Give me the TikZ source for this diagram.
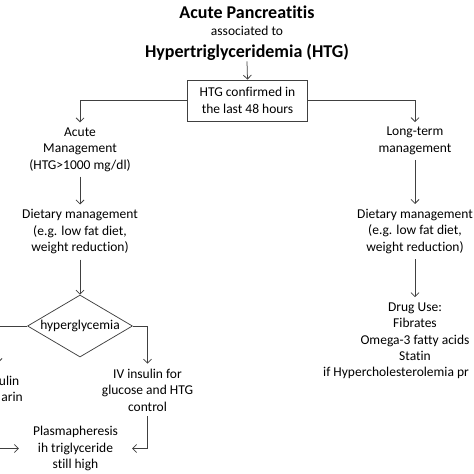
\documentclass[tikz,border=0pt]{standalone}
\usepackage{fontspec}
\setmainfont{Carlito}[Ligatures=NoCommon]
\usepackage{tikz}
\usetikzlibrary{arrows.meta, shapes.geometric, positioning}

\begin{document}
\begin{tikzpicture}[>={Straight Barb[length=4pt,width=8pt]}, x=1pt, y=-1pt,
    txt/.style={align=center, inner xsep=0pt, inner ysep=5pt, text=black,
                font=\fontsize{13.5}{16.5}\selectfont},
    ttl/.style={align=center, inner sep=1pt, text=black,
                font=\bfseries\fontsize{18}{20}\selectfont},
    line/.style={draw=black!75, line width=0.75pt}]

    % =================================================================
    % 1. KHUNG HINH (474 x 474)
    % =================================================================
    \useasboundingbox (0,0) rectangle (474,474);
    \clip (0,0) rectangle (474,474);

    % =================================================================
    % 2. TIEU DE VA HOP XAC NHAN HTG
    % =================================================================
    \node[ttl] (ttlA) at (247,12) {Acute Pancreatitis};
    \node[txt, inner ysep=0pt] (ttlB) at (247,31) {associated to};
    \node[ttl] (ttlC) at (247,52) {Hypertriglyceridemia (HTG)};

    \node[txt, draw=black!75, line width=0.75pt, minimum width=120pt,
          minimum height=41pt, inner ysep=2pt] (confirm) at (247.5,100.5)
          {HTG confirmed in\\the last 48 hours};

    \draw[line, ->] (ttlC.south) -- (confirm.north);

    % =================================================================
    % 3. NHANH TRAI: DIEU TRI CAP
    % =================================================================
    \node[txt] (acute) at (80,149.5) {Acute\\Management\\(HTG>1000 mg/dl)};
    \node[txt] (dietL) at (80,232) {Dietary management\\(e.g. low fat diet,\\weight reduction)};
    \node[diamond, draw=black!75, line width=0.75pt, aspect=1.7, inner sep=0pt,
          minimum width=105pt, minimum height=62pt, text=black,
          font=\fontsize{13.5}{16.5}\selectfont] (hypgly) at (80,326) {hyperglycemia};
    \node[txt] (ivins) at (147.5,390) {IV insulin for\\glucose and HTG\\control};
    \node[txt, inner xsep=14pt] (plasma) at (75.5,448.5) {Plasmapheresis\\ih triglyceride\\still high};
    \node[txt, inner ysep=0pt, anchor=base east] (insul) at (19.5,385) {ulin};
    \node[txt, inner ysep=0pt, anchor=base east] (hepar) at (23,401.5) {arin};

    % dau mut ben ngoai khung hinh
    \coordinate (noL) at (-2,363);
    \coordinate (inL) at (-6,448.5);

    \draw[line, ->] (confirm.west) -| (acute.north);
    \draw[line, ->] (acute.south) -- (dietL.north);
    \draw[line, ->] (dietL.south) -- (hypgly.north);
    \draw[line, ->] (hypgly.east) -| (ivins.north);
    \draw[line, ->] (hypgly.west) -| (noL);
    \draw[line, ->] (ivins.south) |- (plasma.east);
    \draw[line, ->] (inL) -- (plasma.west);

    % =================================================================
    % 4. NHANH PHAI: DIEU TRI LAU DAI
    % =================================================================
    \node[txt] (longt) at (415,141) {Long-term\\management};
    \node[txt] (dietR) at (415,231.5) {Dietary management\\(e.g. low fat diet,\\weight reduction)};
    \node[txt] (drug) at (415,331.5) {Drug Use:\\Fibrates\\Omega-3 fatty acids\\Statin};
    \node[txt, inner ysep=0pt, anchor=base west] (drugnote) at (323,376.5)
          {if Hypercholesterolemia pr};

    \draw[line, ->] (confirm.east) -| (longt.north);
    \draw[line, ->] (longt.south) -- (dietR.north);
    \draw[line, ->] (dietR.south) -- (drug.north);

\end{tikzpicture}
\end{document}
